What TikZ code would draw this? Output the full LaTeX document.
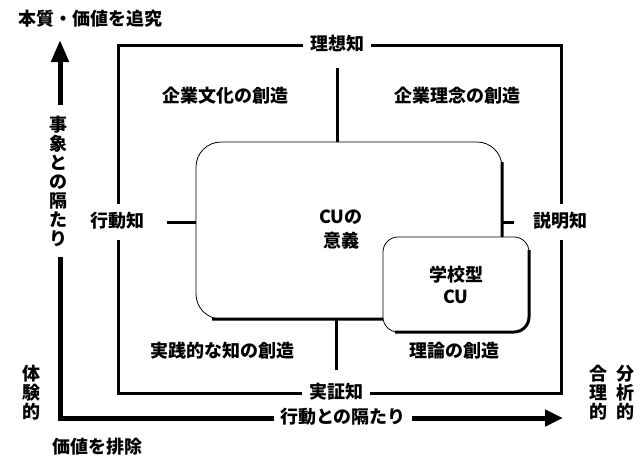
\documentclass[tikz,border=0pt]{standalone}
\usepackage{fontspec}
\setmainfont{Noto Sans CJK JP}
\usetikzlibrary{arrows.meta}
\begin{document}
\begin{tikzpicture}[x=1pt,y=-1pt,
  lbl/.style={font=\fontsize{18}{19}\selectfont\bfseries, inner sep=0pt, text height=14pt, text depth=4pt},
  gaplbl/.style={lbl, inner xsep=7pt, inner ysep=9pt},
  vlbl/.style={font=\fontsize{18}{19}\selectfont\bfseries, align=center, inner xsep=2pt, inner ysep=10pt},
  frame/.style={line width=3pt},
  axis/.style={line width=5pt},
  tipV/.style={-{Triangle[width=17pt,length=22pt]}},
  tipH/.style={-{Triangle[width=16pt,length=18pt]}},
  thinbox/.style={draw, line width=0.8pt, fill=white},
  shadow/.style={line width=3pt},
]
\useasboundingbox (0,0) rectangle (639,459);

% axes and their labels
\node[lbl] (top) at (90,20) {本質・価値を追究};
\node[vlbl] (vaxis) at (58,181) {事\\象\\と\\の\\隔\\た\\り};
\node[vlbl] (exper) at (31,393) {体\\験\\的};
\node[lbl] (bottom) at (97,448) {価値を排除};
\node[vlbl] (rational) at (598,393) {合\\理\\的};
\node[vlbl] (analytic) at (625,393) {分\\析\\的};
\node[lbl, inner xsep=6pt] (haxis) at (343,418) {行動との隔たり};
\coordinate (O) at (60,418);
\coordinate (vtip) at (60,40);
\coordinate (htip) at (563,418);
\draw[axis] (vaxis.south -| O) -- (O) -- (haxis.west);
\draw[axis, tipV] (vaxis.north -| O) -- (vtip);
\draw[axis, tipH] (haxis.east) -- (htip);

% frame
\coordinate (TL) at (118,45);
\coordinate (TR) at (561,45);
\coordinate (BL) at (118,393);
\coordinate (BR) at (561,393);
\node[gaplbl] (ideal) at (337,45) {理想知};
\node[gaplbl] (action) at (117,222) {行動知};
\node[gaplbl] (proof) at (336,393) {実証知};
\node[gaplbl] (expl) at (560,222) {説明知};
\draw[frame] (ideal.west) -- (TL) -- (TL |- action.north);
\draw[frame] (BL |- action.south) -- (BL) -- (proof.west);
\draw[frame] (ideal.east) -- (TR) -- (TR |- expl.north);
\draw[frame] (BR |- expl.south) -- (BR) -- (proof.east);

% quadrant labels
\node[lbl] (q1) at (225,97) {企業文化の創造};
\node[lbl] (q2) at (457,97) {企業理念の創造};
\node[lbl] (q3) at (222,352) {実践的な知の創造};
\node[lbl] (q4) at (454,352) {理論の創造};

% CU box
\node[thinbox, rounded corners=25pt, minimum width=306pt, minimum height=177pt] (cu) at (349,230.5) {};
\draw[shadow, rounded corners=25pt] (502,162) -- (502,319) -- (212,319);
\node[font=\fontsize{18}{24}\selectfont\bfseries, align=center, inner sep=0pt] (cutext) at (341,230) {CUの\\意義};

% connectors to the CU box
\draw[frame, shorten <=16pt] (action.east) -- (action.east -| cu.west);
\draw[frame, shorten >=12pt] (expl.west -| cu.east) -- (expl.west);
\draw[frame, shorten <=5pt] (ideal.south) -- (ideal.south |- cu.north);
\draw[frame, shorten >=5pt] (proof.north |- cu.south) -- (proof.north);

% school-type CU box
\node[thinbox, rounded corners=15pt, minimum width=146pt, minimum height=95pt, align=center, font=\fontsize{18}{22}\selectfont\bfseries] (school) at (456,284.5) {学校型\\CU};
\draw[shadow, rounded corners=15pt] (529,250) -- (529,332) -- (395,332);
\end{tikzpicture}
\end{document}
